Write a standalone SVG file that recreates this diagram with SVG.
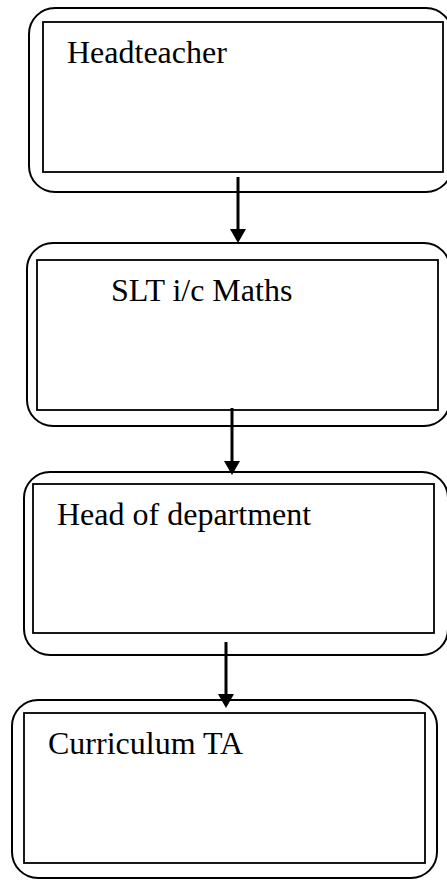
<svg xmlns="http://www.w3.org/2000/svg" width="447" height="880" viewBox="0 0 447 880">
  <style>
    .outer { fill: none; stroke: #000; stroke-width: 2; }
    .inner { fill: none; stroke: #000; stroke-width: 1.8; }
    .label { font-family: "Liberation Serif", "Times New Roman", serif; font-size: 32px; fill: #000; }
    .conn { stroke: #000; stroke-width: 3; fill: none; }
  </style>
  <defs>
    <marker id="arrow" viewBox="0 0 14 16" refX="1" refY="8" markerWidth="14" markerHeight="16" markerUnits="userSpaceOnUse" orient="auto">
      <path d="M0,0 L14,8 L0,16 z" fill="#000"/>
    </marker>
  </defs>
  <rect width="447" height="880" fill="#fff"/>

  <g id="node-headteacher">
    <rect class="outer" x="29" y="8" width="423" height="184" rx="26" ry="26"/>
    <rect class="inner" x="43" y="22" width="400" height="150"/>
    <text class="label" x="67" y="63">Headteacher</text>
  </g>

  <g id="node-slt">
    <rect class="outer" x="27" y="243" width="423" height="183" rx="26" ry="26"/>
    <rect class="inner" x="37" y="260" width="401" height="150"/>
    <text class="label" x="111" y="301">SLT i/c Maths</text>
  </g>

  <g id="node-hod">
    <rect class="outer" x="24" y="472" width="424" height="183" rx="26" ry="26"/>
    <rect class="inner" x="33" y="484" width="401" height="149"/>
    <text class="label" x="57" y="525">Head of department</text>
  </g>

  <g id="node-curriculum-ta">
    <rect class="outer" x="12" y="700" width="425" height="178" rx="26" ry="26"/>
    <rect class="inner" x="24" y="713" width="401" height="150"/>
    <text class="label" x="48" y="754">Curriculum TA</text>
  </g>

  <g id="connectors">
    <line class="conn" x1="238" y1="177" x2="238" y2="230" marker-end="url(#arrow)"/>
    <line class="conn" x1="232" y1="408" x2="232" y2="462" marker-end="url(#arrow)"/>
    <line class="conn" x1="226" y1="642" x2="226" y2="695" marker-end="url(#arrow)"/>
  </g>
</svg>
